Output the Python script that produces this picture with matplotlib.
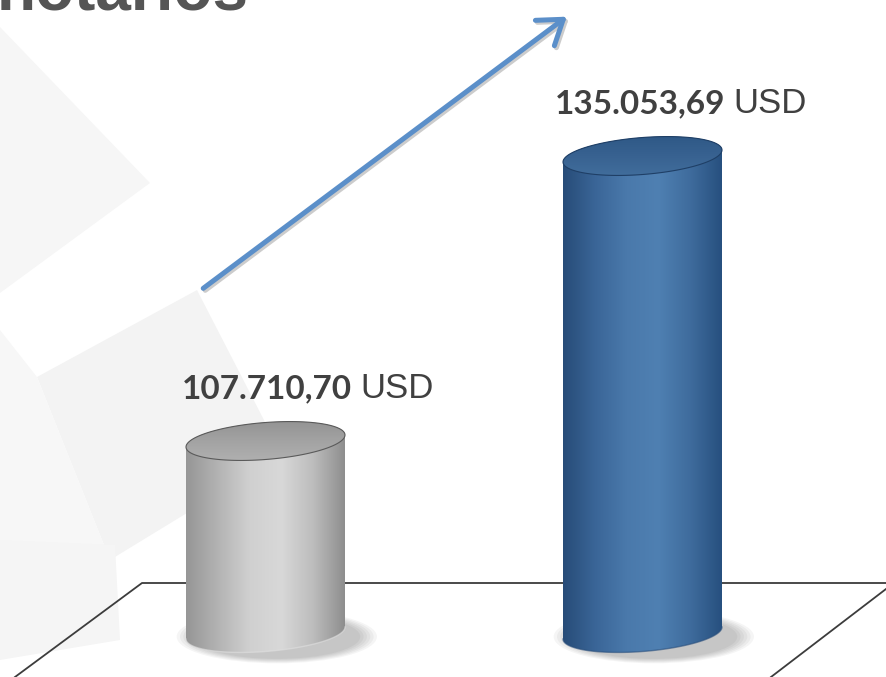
import numpy as np
import matplotlib.pyplot as plt
from matplotlib.patches import Polygon, Ellipse
from matplotlib.colors import LinearSegmentedColormap
from matplotlib.offsetbox import TextArea, HPacker, AnnotationBbox

# datos
categorias = ['Periodo 1', 'Periodo 2']
valores = [107710.70, 135053.69]
etiquetas = ['107.710,70', '135.053,69']
unidad = 'USD'
titulo = 'notarios'

# colores de los cilindros: (lado izquierdo ... centro ... lado derecho), tapa
grad_lado = [
    ['#969696', '#b3b3b3', '#d0d0d0', '#d8d8d8', '#bdbdbd', '#8e8e8e'],
    ['#274c78', '#3a6597', '#4a79ab', '#4f80b2', '#3f6c9d', '#27507f'],
]
grad_tapa = [
    ['#8f8f8f', '#a3a3a3', '#b4b4b4'],
    ['#2c5683', '#386291', '#44719f'],
]

# geometría (en píxeles de la imagen 886x677)
W, H = 886, 677
piso_px = 633          # centro de la elipse inferior
px_por_unidad = 0.010423  # píxeles por USD
nivel_piso = 89290     # valor que cae en el piso
sep_x = 377            # píxeles entre cilindros
x0_px = 265.5

fig = plt.figure(figsize=(W / 100, H / 100), dpi=100)

# capa de fondo en píxeles
ax_bg = fig.add_axes([0, 0, 1, 1])
ax_bg.set_xlim(0, W)
ax_bg.set_ylim(H, 0)
ax_bg.axis('off')

# formas grises tenues del fondo
fondos = [
    ([(0, 27), (150, 183), (0, 293)], '#f6f6f6'),
    ([(37, 377), (197, 290), (282, 455), (110, 560)], '#f3f3f3'),
    ([(0, 330), (37, 377), (110, 560), (0, 640)], '#f7f7f7'),
    ([(0, 540), (115, 545), (120, 640), (0, 660)], '#f5f5f5'),
]
for pts, c in fondos:
    ax_bg.add_patch(Polygon(pts, closed=True, facecolor=c, edgecolor='none', zorder=0))

# piso en perspectiva
ax_bg.plot([15, 142, W], [677, 583, 583], color='#3c3c3c', lw=1.3, zorder=1)
ax_bg.plot([W, 771], [589, 677], color='#3c3c3c', lw=1.3, zorder=1)

# flecha de tendencia (con sombra)
estilo = '->,head_length=0.55,head_width=0.38'
ax_bg.annotate('', xy=(571, 17), xytext=(203, 292),
               arrowprops=dict(arrowstyle=estilo, color='#cccccc', lw=3.6,
                               mutation_scale=30), zorder=2)
ax_bg.annotate('', xy=(569, 15), xytext=(201, 290),
               arrowprops=dict(arrowstyle=estilo, color='#5b8fc9', lw=3.6,
                               mutation_scale=30), zorder=3)

# título (cortado arriba)
fig.text(-0.004, 1 - 10 / H, titulo, fontsize=46, fontweight='bold',
         color='#555555', family='Liberation Sans', va='baseline', ha='left')

# eje de datos
ax = fig.add_axes([0, 0, 1, 1])
ax.patch.set_alpha(0)
ax.axis('off')
xlim = (-x0_px / sep_x, (W - x0_px) / sep_x)
ylim = (nivel_piso - (H - piso_px) / px_por_unidad, nivel_piso + piso_px / px_por_unidad)

a = 79.5 / sep_x                 # semiancho
b = 18.5 / px_por_unidad         # semialto de la elipse
h = 6.0 / px_por_unidad          # inclinación


def elipse(cx, cy, t):
    return np.column_stack([cx + a * np.cos(t), cy + b * np.sin(t) + h * np.cos(t)])


for i, v in enumerate(valores):
    cx = i
    # sombra
    for k in range(6):
        esc = 1 + 0.04 * k
        ax.add_patch(Ellipse((cx + 0.03, nivel_piso - 0.2 * b), 2 * a * esc * 1.05,
                             2 * b * esc * 1.2, facecolor='#000000',
                             alpha=0.04, edgecolor='none', zorder=2))
    # cuerpo
    t_inf = np.linspace(np.pi, 2 * np.pi, 80)
    t_sup = np.linspace(0, np.pi, 80)
    cuerpo = np.vstack([elipse(cx, nivel_piso, t_inf), elipse(cx, v, t_sup)])
    parche = Polygon(cuerpo, closed=True, facecolor='none', edgecolor='none', zorder=3)
    ax.add_patch(parche)
    cmap = LinearSegmentedColormap.from_list('c%d' % i, grad_lado[i])
    grad = np.linspace(0, 1, 256).reshape(1, -1)
    im = ax.imshow(grad, cmap=cmap, aspect='auto', zorder=3,
                   extent=(cx - a, cx + a, nivel_piso - 2 * b, v + 2 * b))
    im.set_clip_path(parche)
    borde = elipse(cx, nivel_piso, t_inf)
    ax.plot(borde[:, 0], borde[:, 1], color='#e0e0e0' if i == 0 else '#2a4f7c',
            lw=1, alpha=0.6, zorder=4)
    # tapa
    t = np.linspace(0, 2 * np.pi, 160)
    tapa = Polygon(elipse(cx, v, t), closed=True, facecolor='none',
                   edgecolor='#5a5a5a' if i == 0 else '#1f3f66', lw=0.8, zorder=5)
    ax.add_patch(tapa)
    cmap_t = LinearSegmentedColormap.from_list('t%d' % i, grad_tapa[i])
    grad_v = np.linspace(0, 1, 256).reshape(-1, 1)
    im_t = ax.imshow(grad_v, cmap=cmap_t, aspect='auto', zorder=4, origin='upper',
                     extent=(cx - a, cx + a, v - 1.4 * b, v + 1.4 * b))
    im_t.set_clip_path(tapa)

    # etiqueta
    num = TextArea(etiquetas[i], textprops=dict(fontsize=24, fontweight='bold',
                                                color='#404040', family='Lato'))
    usd = TextArea(unidad, textprops=dict(fontsize=25, color='#404040',
                                          family='Liberation Sans'))
    caja = HPacker(children=[num, usd], align='baseline', pad=0, sep=6)
    ab = AnnotationBbox(caja, (cx - a - (4 + 4 * i) / sep_x, v + 1.95 * b),
                        frameon=False, box_alignment=(0, 0), pad=0, zorder=6)
    ax.add_artist(ab)

ax.set_xlim(*xlim)
ax.set_ylim(*ylim)

fig.savefig('out.png', dpi=100)
